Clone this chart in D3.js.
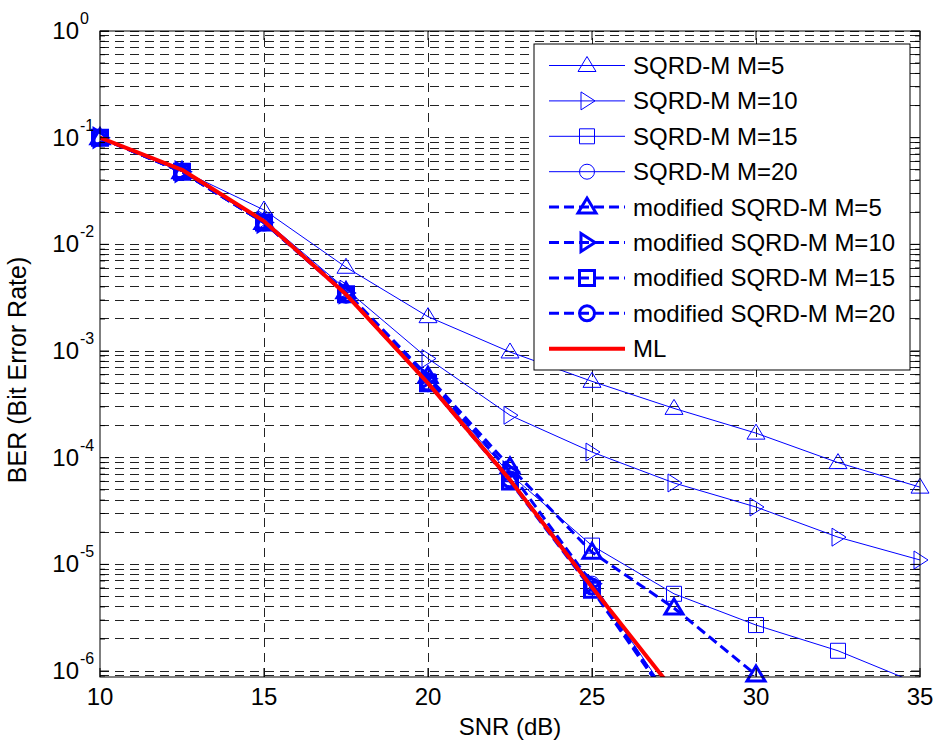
<!DOCTYPE html>
<html>
<head>
<meta charset="utf-8">
<script src="https://cdn.jsdelivr.net/npm/d3@7"></script>
<style>
  body { margin: 0; background: #fff; }
  text { font-family: Arial, "Liberation Sans", sans-serif; fill: #000; }
</style>
</head>
<body>
<script>
// values (BER vs SNR, null = no point)
var snr = [10, 12.5, 15, 17.5, 20, 22.5, 25, 27.5, 30, 32.5, 35];
var sqrdM5   = [0.1, 0.049, 0.021, 0.0061, 0.0021, 0.00098, 0.00052, 0.00029, 0.00017, 9.0e-5, 5.3e-5];
var sqrdM10  = [0.1, 0.048, 0.017, 0.0038, 0.00085, 0.00025, 0.000113, 5.8e-5, 3.45e-5, 1.8e-5, 1.1e-5];
var sqrdM15  = [0.1, 0.048, 0.016, 0.0034, 0.00052, 7.0e-5, 1.5e-5, 5.3e-6, 2.7e-6, 1.55e-6, 7.5e-7];
var sqrdM20  = [0.1, 0.048, 0.016, 0.0033, 0.0005, 6.4e-5, 6.6e-6, 5.0e-7, null, null, null];
var modM5    = [0.1, 0.048, 0.016, 0.0036, 0.00058, 8.2e-5, 1.3e-5, 3.9e-6, 9.2e-7, null, null];
var modM10   = [0.1, 0.048, 0.016, 0.0035, 0.00055, 7.4e-5, 6.6e-6, 4.6e-7, null, null, null];
var modM15   = [0.1, 0.048, 0.016, 0.0034, 0.0005, 6.0e-5, 5.8e-6, 4.6e-7, null, null, null];
var modM20   = [0.1, 0.048, 0.016, 0.0034, 0.0005, 6.2e-5, 6.2e-6, 4.6e-7, null, null, null];
var ml       = [0.1, 0.05, 0.0165, 0.0034, 0.0005, 6.2e-5, 6.1e-6, 6.5e-7, null, null, null];

var seriesNames = ["SQRD-M M=5", "SQRD-M M=10", "SQRD-M M=15", "SQRD-M M=20",
  "modified SQRD-M M=5", "modified SQRD-M M=10", "modified SQRD-M M=15", "modified SQRD-M M=20", "ML"];
var xTicks = [10, 15, 20, 25, 30, 35];
var yTickExps = [0, -1, -2, -3, -4, -5, -6];

// how each series is drawn
var series = [
  {name: seriesNames[0], values: sqrdM5,  marker: "up",     kind: "thin"},
  {name: seriesNames[1], values: sqrdM10, marker: "right",  kind: "thin"},
  {name: seriesNames[2], values: sqrdM15, marker: "square", kind: "thin"},
  {name: seriesNames[3], values: sqrdM20, marker: "circle", kind: "thin"},
  {name: seriesNames[4], values: modM5,   marker: "up",     kind: "thick"},
  {name: seriesNames[5], values: modM10,  marker: "right",  kind: "thick"},
  {name: seriesNames[6], values: modM15,  marker: "square", kind: "thick"},
  {name: seriesNames[7], values: modM20,  marker: "circle", kind: "thick"},
  {name: seriesNames[8], values: ml,      marker: null,     kind: "ml"}
];
var styles = {
  thin:  {color: "#0000ff", width: 1, dash: null,   mwidth: 1},
  thick: {color: "#0000ff", width: 3, dash: "10,5", mwidth: 3},
  ml:    {color: "#ff0000", width: 4, dash: null,   mwidth: 1}
};

var margin = {top: 31, right: 16, bottom: 68, left: 100},
    width = 936 - margin.left - margin.right,
    height = 745 - margin.top - margin.bottom;

var x = d3.scaleLinear().domain([10, 35]).range([0, width]);
var y = d3.scaleLog().domain([8.8e-7, 1]).range([height, 0]);

var svg = d3.select("body").append("svg")
    .attr("width", width + margin.left + margin.right)
    .attr("height", height + margin.top + margin.bottom)
  .append("g")
    .attr("transform", "translate(" + margin.left + "," + margin.top + ")");

svg.append("clipPath").attr("id", "clip")
  .append("rect").attr("width", width).attr("height", height);

// grid: every decade step horizontally, majors only vertically
var yGrid = y.ticks();
svg.append("g").selectAll("line").data(yGrid).enter().append("line")
    .attr("x1", 0).attr("x2", width)
    .attr("y1", function(d) { return y(d); })
    .attr("y2", function(d) { return y(d); })
    .attr("stroke", "#222").attr("stroke-width", 1)
    .attr("shape-rendering", "crispEdges")
    .attr("stroke-dasharray", "9,6");
svg.append("g").selectAll("line").data(xTicks.slice(1, -1)).enter().append("line")
    .attr("x1", function(d) { return x(d); })
    .attr("x2", function(d) { return x(d); })
    .attr("y1", height).attr("y2", 0)
    .attr("stroke", "#222").attr("stroke-width", 1)
    .attr("shape-rendering", "crispEdges")
    .attr("stroke-dasharray", "9,6");

function markerPath(type) {
  if (type === "up") return "M0,-9L9,6L-9,6Z";
  if (type === "right") return "M8,0L-6,9L-6,-9Z";
  if (type === "square") return "M-7.5,-7.5h15v15h-15Z";
  if (type === "circle") return "M7.5,0A7.5,7.5 0 1,1 -7.5,0A7.5,7.5 0 1,1 7.5,0Z";
  return "";
}

var line = d3.line()
    .defined(function(d) { return d.v != null; })
    .x(function(d) { return x(d.x); })
    .y(function(d) { return y(d.v); });

series.forEach(function(s) {
  var st = styles[s.kind];
  var pts = snr.map(function(xv, i) { return {x: xv, v: s.values[i]}; });
  svg.append("path")
      .datum(pts)
      .attr("clip-path", "url(#clip)")
      .attr("fill", "none")
      .attr("stroke", st.color)
      .attr("stroke-width", st.width)
      .attr("stroke-dasharray", st.dash)
      .attr("stroke-linejoin", "round")
      .attr("d", line);
  if (s.marker) {
    svg.append("g").selectAll("path")
        .data(pts.filter(function(d) { return d.v != null && d.v >= y.domain()[0]; }))
      .enter().append("path")
        .attr("transform", function(d) { return "translate(" + x(d.x) + "," + y(d.v) + ")"; })
        .attr("d", markerPath(s.marker))
        .attr("fill", "none")
        .attr("stroke", st.color)
        .attr("stroke-width", st.mwidth);
  }
});

// frame
svg.append("rect").attr("width", width).attr("height", height)
    .attr("fill", "none").attr("stroke", "#000").attr("stroke-width", 1);

// ticks, inward on all four sides
var yMajor = yTickExps.map(function(e) { return Math.pow(10, e); });
var yMinor = yGrid.filter(function(d) {
  return Math.abs(Math.log10(d) - Math.round(Math.log10(d))) > 1e-6;
});
function ticksY(vals, len) {
  [0, width].forEach(function(x0) {
    var dir = x0 === 0 ? 1 : -1;
    svg.append("g").selectAll("line").data(vals).enter().append("line")
        .attr("x1", x0).attr("x2", x0 + dir * len)
        .attr("y1", function(d) { return y(d); })
        .attr("y2", function(d) { return y(d); })
        .attr("stroke", "#000");
  });
}
ticksY(yMajor, 9);
ticksY(yMinor, 5);
[0, height].forEach(function(y0) {
  var dir = y0 === 0 ? 1 : -1;
  svg.append("g").selectAll("line").data(xTicks).enter().append("line")
      .attr("x1", function(d) { return x(d); })
      .attr("x2", function(d) { return x(d); })
      .attr("y1", y0).attr("y2", y0 + dir * 9)
      .attr("stroke", "#000");
});

// tick labels
svg.append("g").selectAll("text").data(xTicks).enter().append("text")
    .attr("x", function(d) { return x(d); })
    .attr("y", height + 28)
    .attr("text-anchor", "middle")
    .style("font-size", "24px")
    .text(function(d) { return d; });

var yl = svg.append("g").selectAll("g").data(yTickExps).enter().append("g")
    .attr("transform", function(d) { return "translate(-21," + y(Math.pow(10, d)) + ")"; });
yl.append("text")
    .attr("x", 0).attr("y", 8)
    .attr("text-anchor", "end")
    .style("font-size", "24px")
    .text("10");
yl.append("text")
    .attr("x", 1).attr("y", -7)
    .style("font-size", "16px")
    .text(function(d) { return d; });

// axis titles
svg.append("text")
    .attr("x", width / 2).attr("y", height + 58)
    .attr("text-anchor", "middle")
    .style("font-size", "24px")
    .text("SNR (dB)");
svg.append("text")
    .attr("transform", "translate(" + (26 - margin.left) + "," + (370 - margin.top) + ") rotate(-90)")
    .attr("text-anchor", "middle")
    .style("font-size", "25px")
    .text("BER (Bit Error Rate)");

// legend
var lg = svg.append("g").attr("transform", "translate(" + (534 - margin.left) + "," + (44 - margin.top) + ")");
lg.append("rect").attr("width", 376).attr("height", 326)
    .attr("fill", "#fff").attr("stroke", "#000").attr("stroke-width", 1);
var rows = lg.selectAll("g.row").data(series).enter().append("g")
    .attr("class", "row")
    .attr("transform", function(d, i) { return "translate(0," + (21.5 + i * 35.4) + ")"; });
rows.append("line")
    .attr("x1", 15).attr("x2", 91)
    .attr("stroke", function(d) { return styles[d.kind].color; })
    .attr("stroke-width", function(d) { return styles[d.kind].width; })
    .attr("stroke-dasharray", function(d) { return styles[d.kind].dash; });
rows.filter(function(d) { return d.marker; }).append("path")
    .attr("transform", "translate(53,0)")
    .attr("d", function(d) { return markerPath(d.marker); })
    .attr("fill", "none")
    .attr("stroke", function(d) { return styles[d.kind].color; })
    .attr("stroke-width", function(d) { return styles[d.kind].mwidth; });
rows.append("text")
    .attr("x", 99).attr("y", 8.5)
    .style("font-size", "24px")
    .text(function(d) { return d.name; });
</script>
</body>
</html>
